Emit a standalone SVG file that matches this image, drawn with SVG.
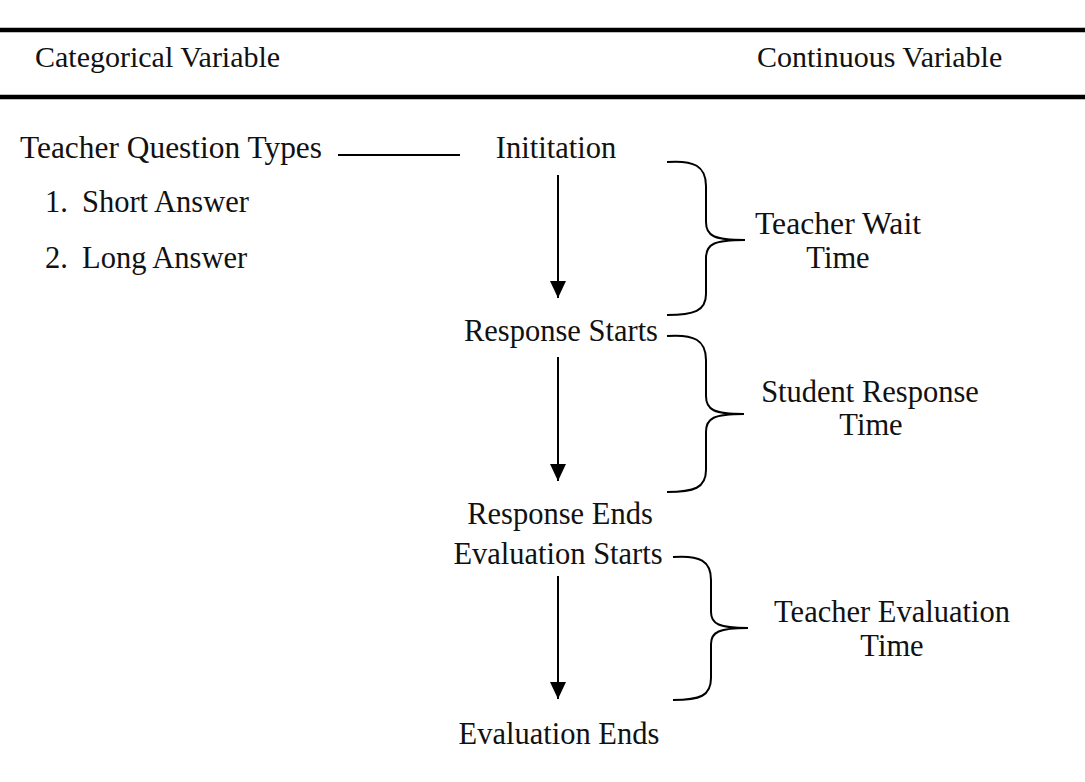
<svg xmlns="http://www.w3.org/2000/svg" width="1085" height="782" viewBox="0 0 1085 782">
<style>
text{font-family:"Liberation Serif","Times New Roman",serif;font-size:30.5px;fill:#111}
.hd{font-size:30px}
.mid{text-anchor:middle}
.rule{stroke:#000;stroke-width:4.5}
.ln{stroke:#000;stroke-width:2;fill:none}
.brace{stroke:#000;stroke-width:2;fill:none}
</style>
<defs>
<marker id="arr" viewBox="0 0 17 16" refX="17" refY="8" markerWidth="17" markerHeight="16" markerUnits="userSpaceOnUse" orient="auto">
<path d="M0,0 L17,8 L0,16 Z" fill="#000"/>
</marker>
</defs>
<g id="header">
<line class="rule" x1="0" y1="30" x2="1085" y2="30"/>
<line class="rule" x1="0" y1="97" x2="1085" y2="97"/>
<text class="hd" x="35" y="67">Categorical Variable</text>
<text class="hd" x="757" y="67">Continuous Variable</text>
</g>
<g id="categorical">
<text x="20" y="158" textLength="302" lengthAdjust="spacingAndGlyphs">Teacher Question Types</text>
<text x="45" y="212">1.</text><text x="82" y="212">Short Answer</text>
<text x="45" y="268">2.</text><text x="82" y="268">Long Answer</text>
</g>
<g id="n-initiation"><text class="mid" x="556" y="158">Inititation</text></g>
<g id="n-response-starts"><text class="mid" x="561" y="341">Response Starts</text></g>
<g id="n-response-ends"><text class="mid" x="560" y="524">Response Ends</text></g>
<g id="n-eval-starts"><text class="mid" x="558" y="564">Evaluation Starts</text></g>
<g id="n-eval-ends"><text class="mid" x="559" y="744">Evaluation Ends</text></g>
<g id="l-wait"><text class="mid" x="838" y="234" textLength="166" lengthAdjust="spacingAndGlyphs">Teacher Wait</text><text class="mid" x="838" y="268">Time</text></g>
<g id="l-student"><text class="mid" x="870" y="402">Student Response</text><text class="mid" x="871" y="435">Time</text></g>
<g id="l-eval"><text class="mid" x="892" y="622">Teacher Evaluation</text><text class="mid" x="892" y="656">Time</text></g>
<g id="connectors">
<line class="ln" x1="338" y1="155" x2="460" y2="155"/>
<line class="ln" x1="558" y1="175" x2="558" y2="298" marker-end="url(#arr)"/>
<line class="ln" x1="558" y1="357" x2="558" y2="481" marker-end="url(#arr)"/>
<line class="ln" x1="558" y1="576" x2="558" y2="699" marker-end="url(#arr)"/>
<path class="brace" d="M667,162 C694,160 706,166 706,186 L706,222 C706,236 714,240 745,240 C714,240 706,244 706,258 L706,294 C706,311 694,315 667,315"/>
<path class="brace" d="M667,336 C694,334 706,340 706,360 L706,396 C706,410 714,414 744,414 C714,414 706,418 706,432 L706,470 C706,488 694,492 667,492"/>
<path class="brace" d="M673,557 C700,555 711,561 711,580 L711,612 C711,624 719,628 748,628 C719,628 711,632 711,644 L711,678 C711,696 700,700 673,700"/>
</g>
</svg>
